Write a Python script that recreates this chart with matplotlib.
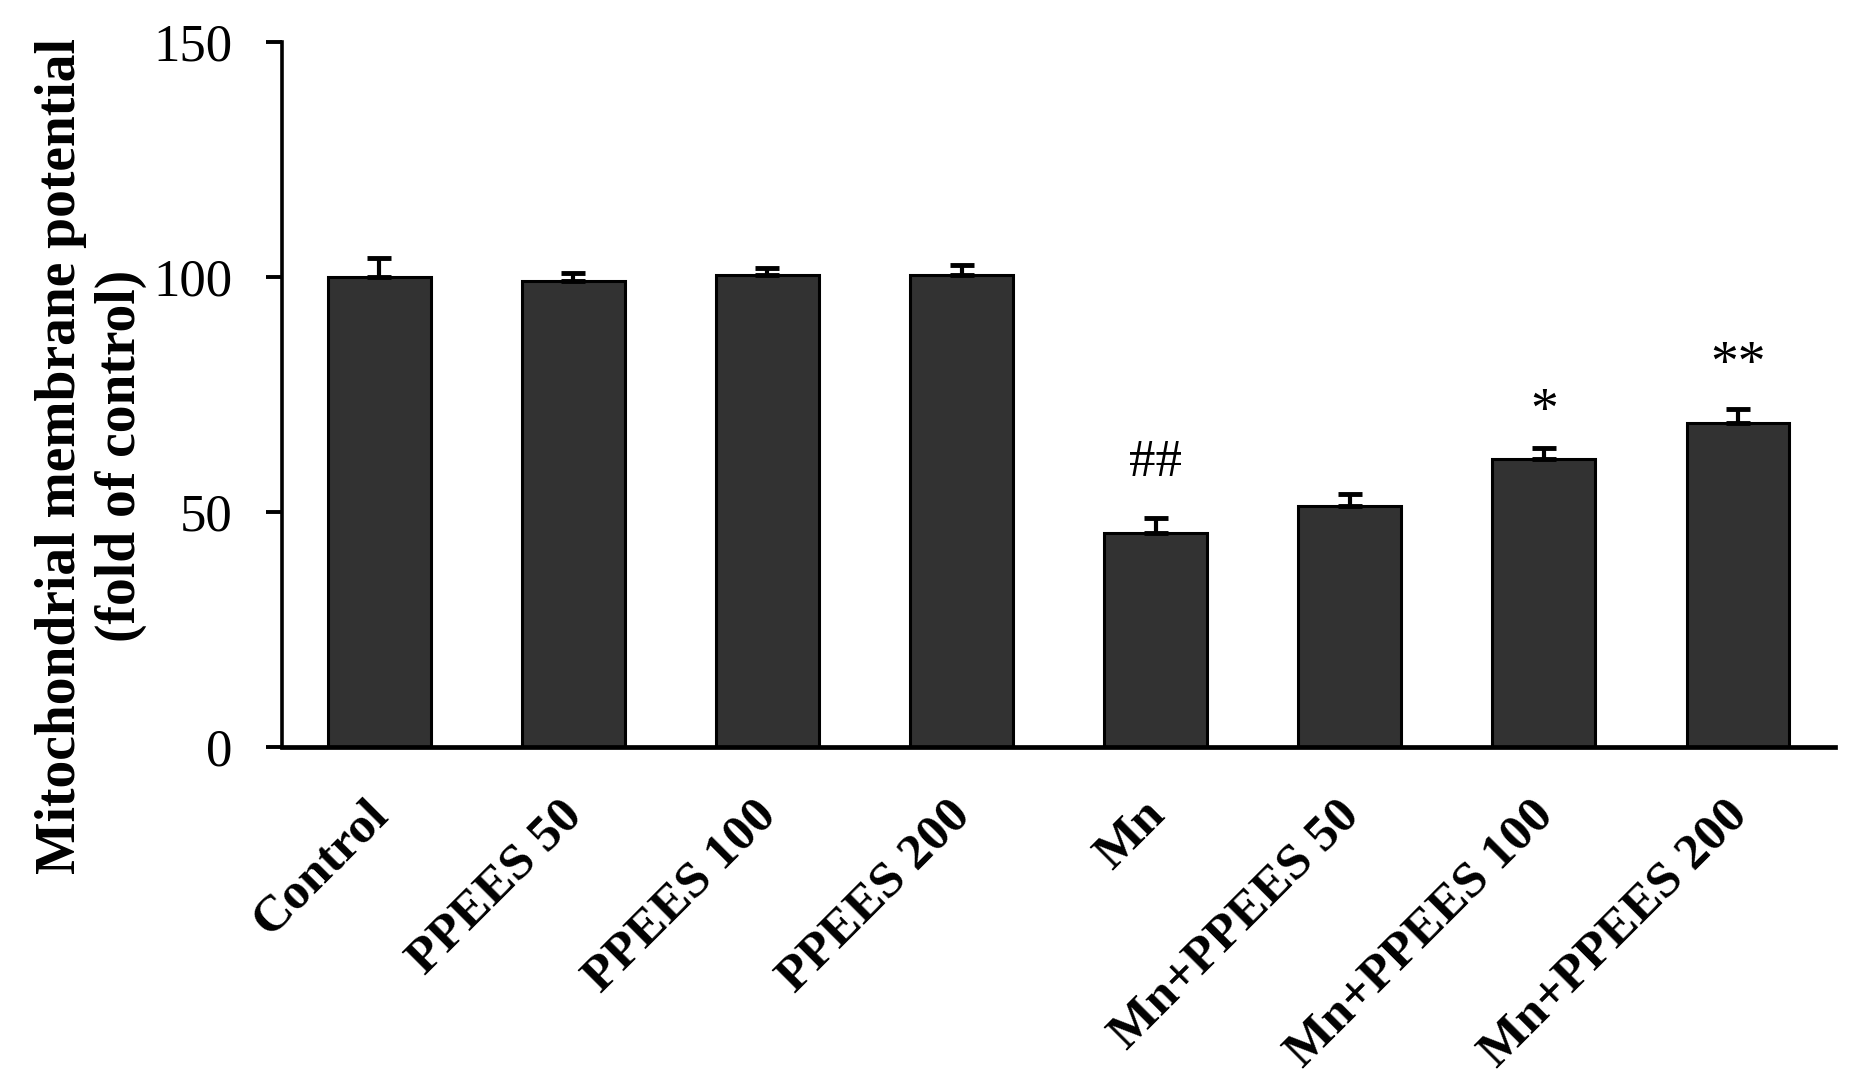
import matplotlib
matplotlib.use('Agg')
import matplotlib.pyplot as plt
import matplotlib.transforms as mtransforms

groups = ['Control', 'PPEES 50', 'PPEES 100', 'PPEES 200',
          'Mn', 'Mn+PPEES 50', 'Mn+PPEES 100', 'Mn+PPEES 200']
means = [100.0, 99.2, 100.5, 100.5, 45.5, 51.3, 61.3, 68.9]
errors = [4.0, 1.6, 1.4, 2.0, 3.3, 2.6, 2.4, 3.0]
marks = ['', '', '', '', '##', '', '*', '**']

plt.rcParams['font.family'] = ['Liberation Serif', 'DejaVu Serif']

fig = plt.figure(figsize=(18.56, 10.85), dpi=100)
ax = fig.add_axes([0.152, 0.3115, 0.8367, 0.6498])

x = list(range(len(groups)))
ax.bar(x, means, width=0.53, color='#323232', edgecolor='black', linewidth=2.2, zorder=2)
ax.errorbar(x, means, yerr=[[0] * len(errors), errors], fmt='none', ecolor='black',
            elinewidth=3, capsize=8.3, capthick=3.5, zorder=3)

# significance marks above the error bars
offsets = {'##': 30, '*': 15, '**': 21}
for i, m in enumerate(marks):
    if not m:
        continue
    ax.annotate(m, (i, means[i] + errors[i]), xytext=(0, offsets[m]), textcoords='offset points',
                ha='center', va='baseline', fontsize=40 if '*' in m else 38)

ax.set_xlim(-0.5, 7.5)
ax.set_ylim(0, 150)
ax.set_yticks([0, 50, 100, 150])
ax.tick_params(axis='y', direction='out', length=11.5, width=2.8, pad=24, labelsize=38)
ax.tick_params(axis='x', length=0, pad=44)
ax.spines['top'].set_visible(False)
ax.spines['right'].set_visible(False)
ax.spines['left'].set_linewidth(2.6)
ax.spines['bottom'].set_linewidth(3.4)

ax.set_xticks(x)
labels = ax.set_xticklabels(groups, rotation=45, ha='right', va='center',
                            rotation_mode='anchor', fontsize=37, fontweight='bold')
shift = mtransforms.ScaledTranslation(0.02, 0, fig.dpi_scale_trans)
for lab in labels:
    lab.set_transform(lab.get_transform() + shift)

fig.text(0.049, 0.58, 'Mitochondrial membrane potential\n(fold of control)',
         rotation=90, ha='center', va='center', multialignment='center',
         fontsize=40, fontweight='bold')

fig.savefig('out.png', dpi=100)
